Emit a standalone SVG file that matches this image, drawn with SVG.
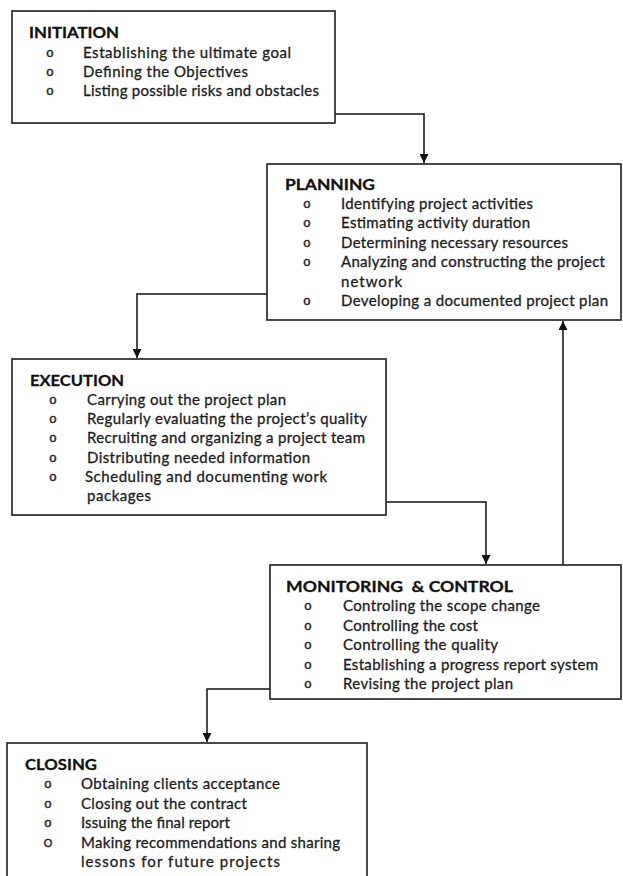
<svg xmlns="http://www.w3.org/2000/svg" width="623" height="876" viewBox="0 0 623 876">
<defs>
<marker id="ah" viewBox="0 0 10 10" refX="10" refY="5" markerWidth="9" markerHeight="9" markerUnits="userSpaceOnUse" orient="auto">
<path d="M0,0 L10,5 L0,10 z" fill="#111"/>
</marker>
<style>
.box{fill:#fff;stroke:#2a2a2a;stroke-width:1.7}
.t{font-family:Lato,"Open Sans","Liberation Sans",sans-serif;font-size:15px;fill:#1c1c1c;stroke:#1c1c1c;stroke-width:0.3}
.h{font-family:Lato,"Open Sans","Liberation Sans",sans-serif;font-size:16px;font-weight:bold;fill:#111;stroke:#111;stroke-width:0.3}
.b{font-family:"Liberation Mono",monospace;font-size:13px;fill:#222;stroke:#222;stroke-width:0.45;text-anchor:middle}
.c{fill:none;stroke:#111;stroke-width:1.5}
</style>
</defs>
<rect width="623" height="876" fill="#fff"/>
<g id="connectors">
<path class="c" d="M335,114 H424 V163" marker-end="url(#ah)"/>
<path class="c" d="M267,294 H137 V358" marker-end="url(#ah)"/>
<path class="c" d="M386,502 H486 V564" marker-end="url(#ah)"/>
<path class="c" d="M563,565 V321" marker-end="url(#ah)"/>
<path class="c" d="M270,689 H207 V742" marker-end="url(#ah)"/>
</g>
<g id="initiation">
<rect class="box" x="12" y="11" width="323" height="112"/>
<text class="h" x="29" y="38" textLength="90" lengthAdjust="spacingAndGlyphs">INITIATION</text>
<text class="b" x="50" y="57">o</text>
<text class="b" x="50" y="76">o</text>
<text class="b" x="50" y="95">o</text>
<text class="t" x="83" y="58" textLength="208">Establishing the ultimate goal</text>
<text class="t" x="83" y="77" textLength="165">Defining the Objectives</text>
<text class="t" x="83" y="96" textLength="236">Listing possible risks and obstacles</text>
</g>
<g id="planning">
<rect class="box" x="267" y="164" width="354" height="156"/>
<text class="h" x="285" y="190" textLength="90" lengthAdjust="spacingAndGlyphs">PLANNING</text>
<text class="b" x="307" y="208">o</text>
<text class="b" x="307" y="227.4">o</text>
<text class="b" x="307" y="246.8">o</text>
<text class="b" x="307" y="266.2">o</text>
<text class="b" x="307" y="305">o</text>
<text class="t" x="341" y="209" textLength="192">Identifying project activities</text>
<text class="t" x="341" y="228.4" textLength="189">Estimating activity duration</text>
<text class="t" x="341" y="247.8" textLength="227">Determining necessary resources</text>
<text class="t" x="341" y="267.2" textLength="264">Analyzing and constructing the project</text>
<text class="t" x="341" y="286.6" textLength="61">network</text>
<text class="t" x="341" y="306" textLength="267">Developing a documented project plan</text>
</g>
<g id="execution">
<rect class="box" x="12" y="359" width="374" height="156"/>
<text class="h" x="30" y="386" textLength="94" lengthAdjust="spacingAndGlyphs">EXECUTION</text>
<text class="b" x="53" y="404">o</text>
<text class="b" x="53" y="423.2">o</text>
<text class="b" x="53" y="442.4">o</text>
<text class="b" x="53" y="461.6">o</text>
<text class="b" x="53" y="480.8">o</text>
<text class="t" x="87" y="405" textLength="199">Carrying out the project plan</text>
<text class="t" x="87" y="424.2" textLength="280">Regularly evaluating the project’s quality</text>
<text class="t" x="87" y="443.4" textLength="278">Recruiting and organizing a project team</text>
<text class="t" x="87" y="462.6" textLength="223">Distributing needed information</text>
<text class="t" x="85" y="481.8" textLength="242">Scheduling and documenting work</text>
<text class="t" x="87" y="501" textLength="64">packages</text>
</g>
<g id="monitoring">
<rect class="box" x="270" y="565" width="351" height="134"/>
<text class="h" x="286" y="592" textLength="227" lengthAdjust="spacingAndGlyphs" xml:space="preserve">MONITORING  &amp; CONTROL</text>
<text class="b" x="308" y="610">o</text>
<text class="b" x="308" y="629.5">o</text>
<text class="b" x="308" y="649">o</text>
<text class="b" x="308" y="668.5">o</text>
<text class="b" x="308" y="688">o</text>
<text class="t" x="343" y="611" textLength="197">Controling the scope change</text>
<text class="t" x="343" y="630.5" textLength="135">Controlling the cost</text>
<text class="t" x="343" y="650" textLength="155">Controlling the quality</text>
<text class="t" x="343" y="669.5" textLength="255">Establishing a progress report system</text>
<text class="t" x="343" y="689" textLength="170">Revising the project plan</text>
</g>
<g id="closing">
<rect class="box" x="7" y="743" width="360" height="140"/>
<text class="h" x="25" y="770" textLength="72" lengthAdjust="spacingAndGlyphs">CLOSING</text>
<text class="b" x="48" y="788">o</text>
<text class="b" x="48" y="807.5">o</text>
<text class="b" x="48" y="827">o</text>
<text class="b" x="48" y="847" style="font-family:'Liberation Sans',sans-serif;font-size:11px">O</text>
<text class="t" x="81" y="789" textLength="199">Obtaining clients acceptance</text>
<text class="t" x="81" y="808.5" textLength="166">Closing out the contract</text>
<text class="t" x="81" y="828" textLength="149">Issuing the final report</text>
<text class="t" x="81" y="847.5" textLength="259">Making recommendations and sharing</text>
<text class="t" x="81" y="867" textLength="199">lessons for future projects</text>
</g>
</svg>
